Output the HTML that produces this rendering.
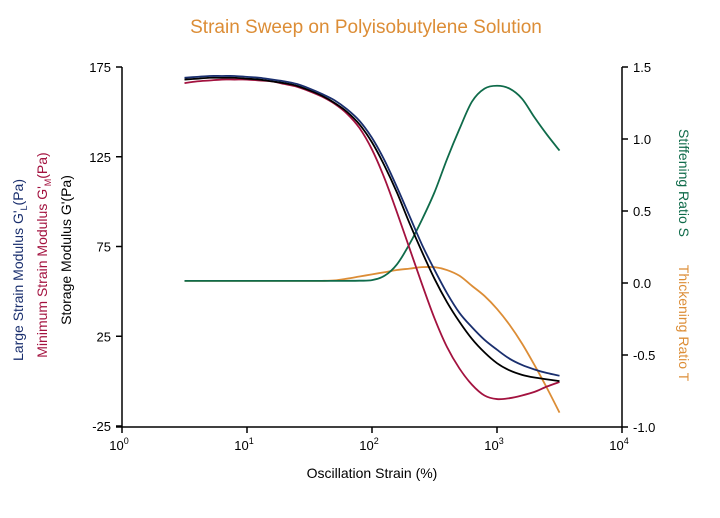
<!DOCTYPE html>
<html><head><meta charset="utf-8"><style>
body{margin:0;background:#fff;}
svg text{font-family:"Liberation Sans",Arial,sans-serif;}
</style></head><body>
<svg width="720" height="513" viewBox="0 0 720 513" xmlns="http://www.w3.org/2000/svg">
<text x="366" y="33" text-anchor="middle" font-size="19" fill="#dc8d36">Strain Sweep on Polyisobutylene Solution</text>
<g id="axes"></g>
<g id="series"></g>
<text transform="translate(23,270) rotate(-90)" text-anchor="middle" font-size="14" fill="#1a2f6e">Large Strain Modulus G'<tspan font-size="9" dy="4">L</tspan><tspan dy="-4">(Pa)</tspan></text>
<text transform="translate(47,255) rotate(-90)" text-anchor="middle" font-size="14" fill="#a3123f">Minimum Strain Modulus G'<tspan font-size="9" dy="4">M</tspan><tspan dy="-4">(Pa)</tspan></text>
<text transform="translate(71,250) rotate(-90)" text-anchor="middle" font-size="14" fill="#000">Storage Modulus G'(Pa)</text>
<text transform="translate(679,183) rotate(90)" text-anchor="middle" font-size="14" fill="#0f6b4a">Stiffening Ratio S</text>
<text transform="translate(679,323) rotate(90)" text-anchor="middle" font-size="14" fill="#dc8d36">Thickening Ratio T</text>
<text x="372" y="478" text-anchor="middle" font-size="14" fill="#000">Oscillation Strain (%)</text>
</svg>
<script>
const xLogs=[0.5,0.6,0.7,0.8,0.9,1.0,1.1,1.2,1.3,1.4,1.5,1.6,1.7,1.8,1.9,2.0,2.1,2.2,2.3,2.4,2.5,2.6,2.7,2.8,2.9,3.0,3.1,3.2,3.3,3.4,3.5];
const gStorage=[168,168.5,169,169,169,168.5,168,167,166,164.5,162,159,155,150,143,133,120,105,88,72,57,44,33,23.5,16,10,6,3.5,2,1,0];
const gLarge=[169,169.5,170,170,170,169.5,169,168,167,165.5,163,160,156.5,151.5,145,135.5,123,108,92,76,62,49,38,30,23,17.5,12.5,9,6.5,4.5,3];
const gMin=[166,167,167.5,168,168,168,167.5,167,165.5,164,161.5,158.5,154.5,149,141,129,113,94,74,54,35,19,7,-2,-8,-10,-9.5,-8,-6,-3,-0.5];
const stiffS=[0.015,0.015,0.015,0.015,0.015,0.015,0.015,0.015,0.015,0.015,0.015,0.015,0.015,0.015,0.016,0.02,0.05,0.13,0.27,0.44,0.63,0.86,1.07,1.26,1.35,1.37,1.35,1.28,1.15,1.03,0.92];
const thickT=[0.015,0.015,0.015,0.015,0.015,0.015,0.015,0.015,0.015,0.015,0.015,0.015,0.018,0.03,0.045,0.06,0.075,0.09,0.1,0.11,0.11,0.09,0.05,-0.02,-0.09,-0.18,-0.29,-0.42,-0.57,-0.73,-0.9];
const leftTicks=[175,125,75,25,-25];
const rightTicks=["1.5","1.0","0.5","0.0","-0.5","-1.0"];
const xTicks=[0,1,2,3,4];
const NS="http://www.w3.org/2000/svg";
const X=l=>122+l*125;
const YL=v=>67+(175-v)*359/200;
const YR=v=>67+(1.5-v)*360/2.5;
function mk(t,a,p){const e=document.createElementNS(NS,t);for(const k in a)e.setAttribute(k,a[k]);p.appendChild(e);return e;}
const ax=document.getElementById('axes');
const la=mk('line',{x1:122,y1:67,x2:122,y2:427,stroke:'#000','stroke-width':1.5},ax);


const ra=mk('line',{x1:622,y1:67,x2:622,y2:427,stroke:'#000','stroke-width':1.5},ax);


const xa=mk('line',{x1:116,y1:427,x2:622,y2:427,stroke:'#000','stroke-width':1.5},ax);


leftTicks.forEach(v=>{const y=YL(v);mk('line',{x1:116,y1:y,x2:122,y2:y,stroke:'#000','stroke-width':1.5},ax);
const t=mk('text',{x:111,y:y+5,'text-anchor':'end','font-size':13},ax);t.textContent=v;

});
rightTicks.forEach(s=>{const y=YR(parseFloat(s));mk('line',{x1:622,y1:y,x2:628,y2:y,stroke:'#000','stroke-width':1.5},ax);
const t=mk('text',{x:633,y:y+5,'font-size':13},ax);t.textContent=s;

});
xTicks.forEach(d=>{const x=X(d);mk('line',{x1:x,y1:427,x2:x,y2:433,stroke:'#000','stroke-width':1.5},ax);
const t=mk('text',{x:x-3,y:450,'text-anchor':'middle','font-size':13},ax);t.textContent='10';


const s=mk('tspan',{'font-size':9,dy:-6},t);s.textContent=d;});
function path(xs,ys,fy){const p=xs.map((l,i)=>[X(l),fy(ys[i])]);let d='M'+p[0];
for(let i=0;i<p.length-1;i++){const a=p[i-1]||p[i],b=p[i],c=p[i+1],e=p[i+2]||c;
d+=` C${b[0]+(c[0]-a[0])/6},${b[1]+(c[1]-a[1])/6} ${c[0]-(e[0]-b[0])/6},${c[1]-(e[1]-b[1])/6} ${c[0]},${c[1]}`;}return d;}
const sg=document.getElementById('series');
const specs=[[thickT,YR,'#dc8d36','series-thickening-ratio'],[stiffS,YR,'#0f6b4a','series-stiffening-ratio'],
[gMin,YL,'#a3123f','series-minimum-strain-modulus'],[gStorage,YL,'#000','series-storage-modulus'],[gLarge,YL,'#1a2f6e','series-large-strain-modulus']];
specs.forEach(s=>{const e=mk('path',{d:path(xLogs,s[0],s[1]),fill:'none',stroke:s[2],'stroke-width':1.8},sg);

});
</script>
</body></html>
